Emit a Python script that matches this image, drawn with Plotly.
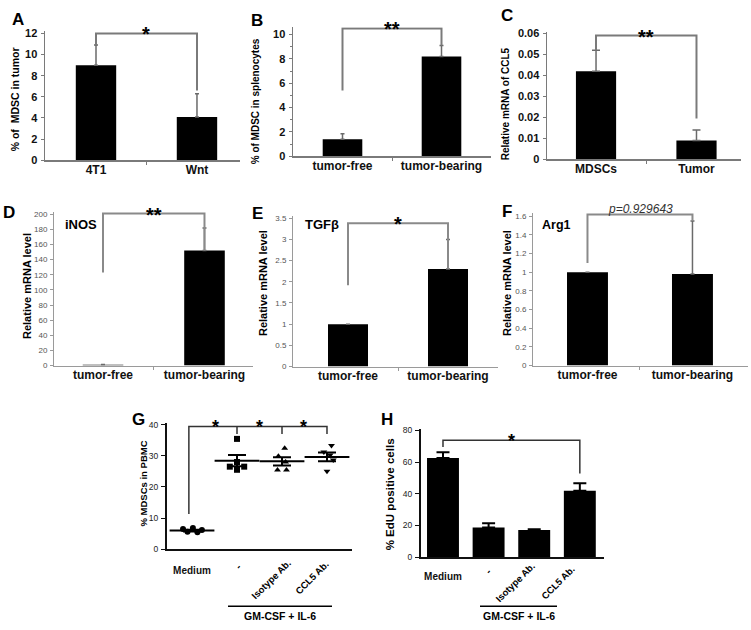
import plotly.graph_objects as go

W, H = 751, 630
FONT = "Liberation Sans, Arial, sans-serif"

# ---------------- data ----------------
A_CATS = ["4T1", "Wnt"]
A_VALS = [9.0, 4.1]
A_ERR = [1.9, 2.2]

B_CATS = ["tumor-free", "tumor-bearing"]
B_VALS = [1.4, 8.2]
B_ERR = [0.45, 0.9]

C_CATS = ["MDSCs", "Tumor"]
C_VALS = [0.042, 0.009]
C_ERR = [0.010, 0.005]

D_CATS = ["tumor-free", "tumor-bearing"]
D_VALS = [1.0, 152.0]
D_ERR = [0.3, 30.0]

E_CATS = ["tumor-free", "tumor-bearing"]
E_VALS = [1.0, 2.3]
E_ERR = [0.0, 0.7]

F_CATS = ["tumor-free", "tumor-bearing"]
F_VALS = [1.0, 0.98]
F_ERR = [0.0, 0.57]
F_PVALUE = "p=0.929643"

G_CATS = ["Medium", "-", "Isotype Ab.", "CCL5 Ab."]
G_POINTS = [
    [6.5, 5.6, 6.8, 5.5, 6.2],
    [35.4, 28.0, 26.5, 26.5, 25.5],
    [32.4, 29.8, 28.0, 25.4, 25.4],
    [33.3, 31.2, 30.2, 28.6, 25.0],
]
G_MEAN = [6.0, 28.4, 28.2, 29.6]
G_SEM = [0.3, 1.8, 1.3, 1.4]

H_CATS = ["Medium", "-", "Isotype Ab.", "CCL5 Ab."]
H_VALS = [62.6, 18.8, 17.2, 42.0]
H_ERR = [3.6, 2.6, 0.5, 4.7]

GROUP_LABEL = "GM-CSF + IL-6"

# significance brackets: (top, left arm end, right arm end, text)
BR_A = (12.0, 10.9, 6.6, "*")
BR_B = (10.5, 5.4, 9.1, "**")
BR_C = (0.059, 0.052, 0.0195, "**")
BR_D = (201.0, 123.0, 152.0, "**")
BR_E = (3.38, 1.92, 2.3, "*")
BR_F = (1.62, 1.1, 1.55, "")
BR_G_TOP, BR_G_LEFT, BR_G_DROP = 39.4, 11.3, 37.0
BR_H = (73.8, 69.5, 52.9, "*")

# style
JITTER = [
    [-0.2, -0.1, 0.02, 0.12, 0.22],
    [0.0, 0.0, -0.16, 0.16, 0.0],
    [0.06, -0.08, 0.08, -0.1, 0.1],
    [0.1, -0.07, 0.07, 0.14, 0.0],
]
G_SYMBOLS = ["circle", "square", "triangle-up", "triangle-down"]

fig = go.Figure()
annotations = []
shapes = []


def px(x):
    return x / W


def py(y):
    return 1 - y / H


def b(t):
    return "<b>" + t + "</b>"


def add_axes(n, xl, xr, xrange, y0px, ytpx, ytval, ymax, ytick, style):
    ppu = (y0px - ytpx) / ytval
    ytop = y0px - ymax * ppu
    sfx = "" if n == 1 else str(n)
    if style == "bold":
        lc, lw, tf, tc = "#7a7a7a", 1.5, dict(family=FONT, size=11, color="#111", weight="bold"), "#7a7a7a"
    elif style == "light":
        lc, lw, tf, tc = "#9a9a9a", 1, dict(family=FONT, size=8, color="#555"), "#9a9a9a"
    else:
        lc, lw, tf, tc = "#111", 2, dict(family=FONT, size=8.5, color="#222"), "#111"
    fig.layout["xaxis" + sfx] = dict(
        domain=[px(xl), px(xr)], range=xrange, anchor="y" + sfx,
        showline=True, linecolor=lc, linewidth=lw, showgrid=False, zeroline=False,
        ticks="", fixedrange=True,
    )
    fig.layout["yaxis" + sfx] = dict(
        domain=[py(y0px), py(ytop)], range=[0, ymax], anchor="x" + sfx,
        showline=True, linecolor=lc, linewidth=lw, showgrid=False, zeroline=False,
        ticks="outside", ticklen=3, tickcolor=tc, tickwidth=1, dtick=ytick, tick0=0,
        tickfont=tf, ticklabelstandoff=1, fixedrange=True,
    )
    return "x" + sfx, "y" + sfx


def xcat(n, cats, size=12, mid=True, standoff=-2):
    sfx = "" if n == 1 else str(n)
    ax = fig.layout["xaxis" + sfx]
    ax.tickvals = list(range(len(cats)))
    ax.ticktext = [b(c) for c in cats]
    ax.tickfont = dict(family=FONT, size=size, color="#111")
    ax.ticklabelstandoff = standoff
    if mid:
        ax.minor = dict(tickmode="array", tickvals=[0.5], ticks="outside", ticklen=3,
                        tickcolor=ax.linecolor, tickwidth=1)


def bars(xa, ya, vals, err, width, ecol, ew, ethick):
    fig.add_trace(go.Bar(
        x=list(range(len(vals))), y=vals, width=width, marker=dict(color="#000", line=dict(width=0)),
        error_y=dict(type="data", array=err, arrayminus=[0] * len(err), symmetric=False,
                     color=ecol, width=ew, thickness=ethick, visible=True),
        xaxis=xa, yaxis=ya, showlegend=False,
    ))


def bracket(xa, ya, br, col, lw, star_size=20, i0=0, i1=1):
    top, la, ra, txt = br
    fig.add_trace(go.Scatter(
        x=[i0, i0, i1, i1], y=[la, top, top, ra], mode="lines",
        line=dict(color=col, width=lw), xaxis=xa, yaxis=ya, showlegend=False,
        hoverinfo="skip",
    ))
    if txt:
        annotations.append(dict(
            x=(i0 + i1) / 2, y=top, xref=xa, yref=ya, text=b(txt), showarrow=False,
            yanchor="middle", yshift=-1,
            font=dict(family=FONT, size=star_size, color="#000"),
        ))


def ann(x, y, text, size, bold=True, angle=0, italic=False, color="#000"):
    annotations.append(dict(
        x=px(x), y=py(y), xref="paper", yref="paper", text=b(text) if bold else text,
        showarrow=False, xanchor="center", yanchor="middle", textangle=angle,
        font=dict(family=FONT, size=size, color=color,
                  style="italic" if italic else "normal"),
    ))


# ---------------- panel A ----------------
xa, ya = add_axes(1, 45, 240, [-0.505, 1.426], 158, 29, 12, 12.25, 2, "bold")
xcat(1, A_CATS)
bars(xa, ya, A_VALS, A_ERR, 0.4, "#6a6a6a", 2, 1.5)
bracket(xa, ya, BR_A, "#7a7a7a", 2)

# ---------------- panel B ----------------
xa, ya = add_axes(2, 293, 491, [-0.5, 1.5], 154, 30, 10, 10.6, 2, "bold")
xcat(2, B_CATS)
fig.layout.yaxis2.minor = dict(dtick=1, ticks="outside", ticklen=2, tickcolor="#7a7a7a")
bars(xa, ya, B_VALS, B_ERR, 0.4, "#6a6a6a", 2, 1.5)
bracket(xa, ya, BR_B, "#7a7a7a", 2)

# ---------------- panel C ----------------
xa, ya = add_axes(3, 547, 741, [-0.488, 1.443], 157, 29, 0.06, 0.0606, 0.01, "bold")
xcat(3, C_CATS)
bars(xa, ya, C_VALS, C_ERR, 0.4, "#6a6a6a", 4, 1.5)
bracket(xa, ya, BR_C, "#7a7a7a", 2)

# ---------------- panel D ----------------
xa, ya = add_axes(4, 54, 253, [-0.483, 1.478], 367, 213, 200, 203, 20, "light")
xcat(4, D_CATS)
bars(xa, ya, D_VALS, D_ERR, 0.4, "#6a6a6a", 2, 1.5)
bracket(xa, ya, BR_D, "#8a8a8a", 2)

# ---------------- panel E ----------------
xa, ya = add_axes(5, 293, 498, [-0.55, 1.5], 368, 217, 3.5, 3.55, 0.5, "light")
xcat(5, E_CATS)
bars(xa, ya, E_VALS, E_ERR, 0.4, "#6a6a6a", 2, 1.5)
bracket(xa, ya, BR_E, "#8a8a8a", 2)

# ---------------- panel F ----------------
xa, ya = add_axes(6, 533, 748, [-0.519, 1.529], 367, 215, 1.6, 1.64, 0.2, "light")
xcat(6, F_CATS)
bars(xa, ya, F_VALS, F_ERR, 0.39, "#6a6a6a", 2, 1.5)
bracket(xa, ya, BR_F, "#8a8a8a", 2)

# ---------------- panel G ----------------
xa, ya = add_axes(7, 167, 352, [-0.556, 3.556], 554, 427, 40, 40.6, 10, "black")
xcat(7, G_CATS[:1], size=10, mid=False, standoff=11)
fig.layout.yaxis7.ticklen = 4
for i, pts in enumerate(G_POINTS):
    fig.add_trace(go.Scatter(
        x=[i + j for j in JITTER[i]], y=pts, mode="markers",
        marker=dict(symbol=G_SYMBOLS[i], size=6, color="#000"),
        xaxis=xa, yaxis=ya, showlegend=False, cliponaxis=False,
    ))
fig.add_trace(go.Scatter(
    x=list(range(len(G_MEAN))), y=G_MEAN, mode="markers",
    marker=dict(symbol="line-ew", size=32, line=dict(width=2, color="#000")),
    error_y=dict(type="data", array=G_SEM, color="#000", width=9, thickness=2),
    xaxis=xa, yaxis=ya, showlegend=False, cliponaxis=False,
))
fig.add_trace(go.Scatter(
    x=[-0.07, -0.07, 3, 3], y=[BR_G_LEFT, BR_G_TOP, BR_G_TOP, BR_G_DROP], mode="lines",
    line=dict(color="#333", width=1.5), xaxis=xa, yaxis=ya, showlegend=False,
))
for i in (1, 2):
    fig.add_trace(go.Scatter(
        x=[i, i], y=[BR_G_TOP, BR_G_DROP], mode="lines",
        line=dict(color="#333", width=1.5), xaxis=xa, yaxis=ya, showlegend=False,
    ))
for xs in (0.53, 1.49, 2.47):
    annotations.append(dict(x=xs, y=BR_G_TOP, xref=xa, yref=ya, text=b("*"), showarrow=False,
                            yanchor="middle", yshift=-1,
                            font=dict(family=FONT, size=18, color="#000")))

# ---------------- panel H ----------------
xa, ya = add_axes(8, 421, 604, [-0.482, 3.53], 562, 433, 80, 81, 20, "black")
xcat(8, H_CATS[:1], size=10, mid=False, standoff=9)
fig.layout.yaxis8.ticklen = 4
bars(xa, ya, H_VALS, H_ERR, 0.7, "#000", 6.5, 2)
bracket(xa, ya, BR_H, "#333", 1.5, star_size=18, i0=0, i1=3)

# ---------------- text ----------------
for lab, x, y in [("A", 18, 15), ("B", 257, 16), ("C", 507, 11), ("D", 9, 211),
                  ("E", 257, 212), ("F", 507, 210), ("G", 138, 422), ("H", 387, 422)]:
    ann(x, y, lab, 17)

ann(15, 96, "% of  MDSC in tumor", 10.5, angle=-90)
ann(255, 98, "% of MDSC in splenocytes", 10, angle=-90)
ann(505, 100, "Relative mRNA of CCL5", 10, angle=-90)
ann(27, 286, "Relative mRNA level", 11, angle=-90)
ann(263, 283, "Relative mRNA level", 11, angle=-90)
ann(507, 283, "Relative mRNA level", 11, angle=-90)
ann(143, 487, "% MDSCs in PBMC", 9.5, angle=-90)
ann(390, 498, "% EdU positive cells", 11.5, angle=-90)

ann(81, 223, "iNOS", 13)
ann(322, 223, "TGFβ", 13)
ann(556, 224, "Arg1", 12.5)
ann(640, 208, F_PVALUE, 12, bold=False, italic=True, color="#333")

# G / H rotated category labels
ann(238, 571, G_CATS[1], 10, angle=-50)
ann(271, 585, G_CATS[2], 9.5, angle=-45)
ann(312, 583, G_CATS[3], 9.5, angle=-45)
ann(488, 577, H_CATS[1], 10, angle=-50)
ann(515, 588, H_CATS[2], 9.5, angle=-45)
ann(558, 588, H_CATS[3], 9.5, angle=-45)
ann(280, 622, GROUP_LABEL, 10.5)
ann(519, 622, GROUP_LABEL, 10.5)
shapes.append(dict(type="line", xref="paper", yref="paper", x0=px(228), x1=px(332),
                   y0=py(612), y1=py(612), line=dict(color="#000", width=1.5)))
shapes.append(dict(type="line", xref="paper", yref="paper", x0=px(480), x1=px(557),
                   y0=py(612), y1=py(612), line=dict(color="#000", width=1.5)))

fig.update_layout(
    width=W, height=H, margin=dict(l=0, r=0, t=0, b=0),
    paper_bgcolor="#fff", plot_bgcolor="rgba(0,0,0,0)",
    annotations=annotations, shapes=shapes, showlegend=False,
    font=dict(family=FONT), hovermode=False,
)
fig.write_html("out.html", config={"displayModeBar": False, "staticPlot": True},
               post_script="document.body.style.margin='0px';")
